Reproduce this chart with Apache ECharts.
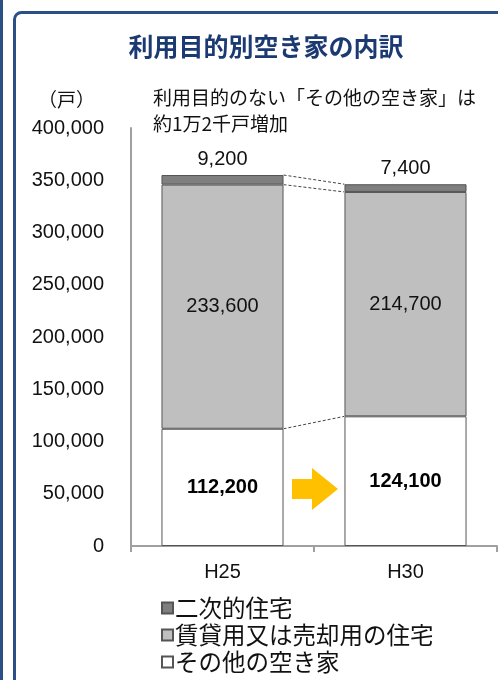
<!DOCTYPE html>
<html><head><meta charset="utf-8">
<script src="https://cdn.jsdelivr.net/npm/echarts@6/dist/echarts.min.js"></script>
<style>html,body{margin:0;padding:0;background:#fff}#c{width:498px;height:680px}</style>
</head><body><div id="c"></div>
<script>
const categories = ['H25', 'H30'];
const seriesNames = ['二次的住宅', '賃貸用又は売却用の住宅', 'その他の空き家'];
const secondary = [9200, 7400];
const rental = [233600, 214700];
const other = [112200, 124100];
const yTicks = [0, 50000, 100000, 150000, 200000, 250000, 300000, 350000, 400000];
const titleText = '利用目的別空き家の内訳';
const noteLines = ['利用目的のない「その他の空き家」は', '約1万2千戸増加'];
const unitText = '（戸）';

const JP = '"Noto Sans CJK JP", "Noto Sans", sans-serif';
const NUM = '"Liberation Sans", Arial, sans-serif';
const fmt = v => v.toLocaleString('en-US');

// cumulative boundaries for connector lines
const b1 = other.map((v, i) => v);
const b2 = other.map((v, i) => v + rental[i]);
const b3 = other.map((v, i) => v + rental[i] + secondary[i]);
const connectors = [[b1[0], b1[1]], [b2[0], b2[1]], [b3[0], b3[1]]];

const BAR_RATIO = 0.667;

const chart = echarts.init(document.getElementById('c'), null, {renderer: 'canvas'});
chart.setOption({
  animation: false,
  title: {
    text: titleText, left: 261, top: 29, textAlign: 'center',
    textStyle: {fontFamily: JP, fontSize: 25, fontWeight: 'bold', color: '#1c3a72'}
  },
  grid: {left: 131, right: 1, top: 128, bottom: 134},
  legend: {
    orient: 'vertical', left: 156, top: 591, height: 120, width: 330,
    itemWidth: 11, itemHeight: 11, itemGap: 3,
    icon: 'rect',
    data: seriesNames,
    textStyle: {fontFamily: JP, fontSize: 23.5, color: '#111', padding: [0, 0, 0, -3], lineHeight: 24}
  },
  xAxis: {
    type: 'category', data: categories,
    axisLine: {lineStyle: {color: '#a0a0a0', width: 2}},
    axisTick: {show: true, length: 6, lineStyle: {color: '#a0a0a0', width: 2}},
    axisLabel: {fontFamily: NUM, fontSize: 20, color: '#111', margin: 16}
  },
  yAxis: {
    type: 'value', min: 0, max: 400000, interval: 50000,
    axisLine: {show: true, lineStyle: {color: '#a0a0a0', width: 2}},
    axisTick: {show: false},
    splitLine: {show: false},
    axisLabel: {fontFamily: NUM, fontSize: 20, color: '#111', margin: 27,
      formatter: v => yTicks.includes(v) ? fmt(v) : ''}
  },
  graphic: [
    {type: 'rect', shape: {x: 0, y: 0, width: 3, height: 680}, style: {fill: '#2b4f87'}},
    {type: 'rect', shape: {x: 14.5, y: 12.5, width: 600, height: 800, r: 7},
      style: {fill: 'none', stroke: '#2b4f87', lineWidth: 3}},
    {type: 'text', left: 38, top: 90, style: {text: unitText, font: '19px ' + JP, fill: '#111'}},
    {type: 'text', left: 153, top: 88, style: {text: noteLines[0], font: '19px ' + JP, fill: '#111'}},
    {type: 'text', left: 153, top: 114, style: {text: noteLines[1], font: '19px ' + JP, fill: '#111'}},
    {type: 'polygon', shape: {points: [[292, 479], [312, 479], [312, 468], [338, 489], [312, 510], [312, 499], [292, 499]]},
      style: {fill: '#ffc000'}}
  ],
  series: [
    {
      name: seriesNames[2], type: 'bar', stack: 'a', data: other, barWidth: (BAR_RATIO * 100) + '%',
      itemStyle: {color: '#ffffff', borderColor: '#555', borderWidth: 1},
      label: {show: true, position: 'inside', formatter: p => fmt(p.value),
        fontFamily: NUM, fontSize: 20, fontWeight: 'bold', color: '#000'}
    },
    {
      name: seriesNames[1], type: 'bar', stack: 'a', data: rental,
      itemStyle: {color: '#bfbfbf', borderColor: '#555', borderWidth: 1},
      label: {show: true, position: 'inside', formatter: p => fmt(p.value),
        fontFamily: NUM, fontSize: 20, color: '#111'}
    },
    {
      name: seriesNames[0], type: 'bar', stack: 'a', data: secondary,
      itemStyle: {color: '#7f7f7f', borderColor: '#555', borderWidth: 1},
      label: {show: true, position: 'top', distance: 6, formatter: p => fmt(p.value),
        fontFamily: NUM, fontSize: 20, color: '#111'}
    },
    {
      type: 'custom', name: 'connector', silent: true, z: 5,
      data: connectors,
      renderItem: function (params, api) {
        const v0 = api.value(0), v1 = api.value(1);
        const half = api.size([1, 0])[0] * BAR_RATIO / 2;
        const p0 = api.coord([0, v0]);
        const p1 = api.coord([1, v1]);
        return {
          type: 'line',
          shape: {x1: p0[0] + half, y1: p0[1], x2: p1[0] - half, y2: p1[1]},
          style: {stroke: '#444', lineWidth: 1, lineDash: [3, 2]}
        };
      },
      encode: {x: -1, y: [0, 1]}
    }
  ]
});
</script></body></html>
